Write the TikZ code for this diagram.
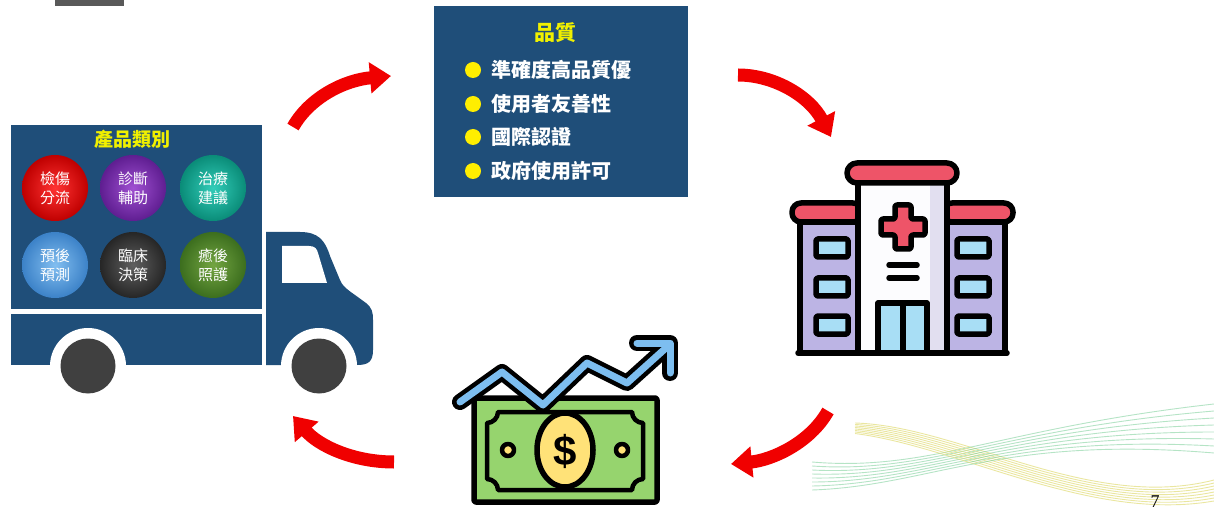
\documentclass[tikz,border=0pt]{standalone}
\usepackage{fontspec}
\newfontfamily\cjk{Noto Sans CJK TC}
\newfontfamily\numfont{Liberation Serif}
\newfontfamily\dollarfont{Liberation Sans}
\usetikzlibrary{arrows.meta}
\definecolor{navy}{RGB}{31,78,121}
\definecolor{wheelgray}{RGB}{64,64,64}
\definecolor{titleyellow}{RGB}{240,240,0}
\definecolor{bulletyellow}{RGB}{255,238,0}
\definecolor{cyclered}{RGB}{240,0,0}
\definecolor{hospred}{RGB}{238,84,104}
\definecolor{lavender}{RGB}{188,180,228}
\definecolor{glass}{RGB}{168,222,245}
\definecolor{towershade}{RGB}{226,223,240}
\definecolor{billgreen}{RGB}{150,212,110}
\definecolor{coinyellow}{RGB}{255,226,120}
\definecolor{trendblue}{RGB}{125,190,240}
\definecolor{wavegreen}{RGB}{120,205,150}
\definecolor{waveyellow}{RGB}{225,220,120}
\begin{document}
\begin{tikzpicture}[x=1pt,y=-1pt,
  ball/.style={circle,minimum size=66pt,inner sep=0pt,text=white,align=center,
    font=\cjk\fontsize{15}{19}\selectfont},
  boxtitle/.style={text=titleyellow,font=\cjk\bfseries\fontsize{19}{22}\selectfont},
  bullet/.style={circle,fill=bulletyellow,minimum size=16pt,inner sep=0pt},
  item/.style={anchor=west,text=white,inner sep=0pt,font=\cjk\bfseries\fontsize{20}{24}\selectfont},
  cycle/.style={draw=cyclered,line width=13pt,-{Triangle[width=30pt,length=21pt]}},
  outline/.style={draw=black,line width=5.5pt,line join=round,line cap=round},
  waveg/.style={draw=wavegreen,line width=0.9pt,opacity=0.55},
  wavey/.style={draw=waveyellow,line width=0.9pt,opacity=0.7}]
\useasboundingbox (0,0) rectangle (1214,510);
\clip (0,0) rectangle (1214,510);

% decorative waves, lower right
\foreach \i in {0,...,7}{
  \draw[wavey] (855,{423+1.5*\i}) .. controls (960,{426+3*\i}) and (1090,{512+1.5*\i}) .. (1214,{480+3*\i});
  \draw[waveg] (812,{462+4*\i}) .. controls (930,{472+2*\i}) and (1000,{428+\i}) .. (1214,{404+7*\i});
}

% small grey tab at the top edge
\fill[gray!70!black] (55,0) rectangle (124,6);

% ---------- truck ----------
\fill[navy] (11,125) rectangle (262,309);
\fill[navy] (11,314) rectangle (262,365);
\fill[navy] (266,232) -- (300,232) .. controls (318,232) and (325,240) .. (330,256)
  -- (340,280) .. controls (343,287) and (348,290) .. (355,295)
  -- (366,303) .. controls (372,308) and (373,312) .. (373,320)
  -- (373,350) .. controls (373,362) and (368,365) .. (357,365)
  -- (266,365) -- cycle;
\fill[white] (282,246) -- (309,246) .. controls (315,246) and (317,249) .. (318,253)
  -- (327,283) -- (282,283) -- cycle;
\fill[white] (88,366) circle[radius=38];
\fill[white] (319,366) circle[radius=38];
\node[circle,fill=wheelgray,minimum size=55pt,inner sep=0pt] (rearwheel) at (88,366) {};
\node[circle,fill=wheelgray,minimum size=55pt,inner sep=0pt] (frontwheel) at (319,366) {};

\node[boxtitle] (cattitle) at (132,139) {產品類別};
\node[ball,inner color=red!80!white,outer color=red!75!black] (triage) at (55,188) {檢傷\\分流};
\node[ball,inner color={rgb,255:red,160;green,80;blue,210},outer color={rgb,255:red,95;green,30;blue,145}] (diag) at (133,188) {診斷\\輔助};
\node[ball,inner color={rgb,255:red,50;green,205;blue,185},outer color={rgb,255:red,10;green,140;blue,120}] (treat) at (213,188) {治療\\建議};
\node[ball,inner color={rgb,255:red,130;green,190;blue,240},outer color={rgb,255:red,60;green,130;blue,200}] (prog) at (55,265) {預後\\預測};
\node[ball,inner color={rgb,255:red,95;green,95;blue,95},outer color={rgb,255:red,38;green,38;blue,38}] (clin) at (133,265) {臨床\\決策};
\node[ball,inner color={rgb,255:red,115;green,165;blue,65},outer color={rgb,255:red,60;green,110;blue,30}] (care) at (213,265) {癒後\\照護};

% ---------- quality box ----------
\fill[navy] (434,6) rectangle (688,197);
\node[boxtitle,font=\cjk\bfseries\fontsize{21}{24}\selectfont] (qtitle) at (555,33) {品質};
\node[bullet] (b1) at (473,70) {};
\node[bullet] (b2) at (473,104) {};
\node[bullet] (b3) at (473,137) {};
\node[bullet] (b4) at (473,171) {};
\node[item] (q1) at (491,70) {準確度高品質優};
\node[item] (q2) at (491,104) {使用者友善性};
\node[item] (q3) at (491,137) {國際認證};
\node[item] (q4) at (491,171) {政府使用許可};

% ---------- hospital ----------
\draw[outline,fill=lavender] (800,222) rectangle (860,353);
\draw[outline,fill=lavender] (945,222) rectangle (1005,353);
\draw[outline,fill=hospred,rounded corners=9pt] (792,203) rectangle (862,222);
\draw[outline,fill=hospred,rounded corners=9pt] (943,203) rectangle (1013,222);
\fill[white!96!lavender] (858,181) rectangle (947,353);
\fill[towershade] (930,183) rectangle (945,353);
\draw[outline] (858,181) rectangle (947,353);
\draw[outline,fill=hospred,rounded corners=10pt] (847,163) rectangle (957,183);
\foreach \yy in {248,287,325}{
  \draw[outline,fill=glass,rounded corners=1.5pt] (816,{\yy-9}) rectangle (848,{\yy+9});
  \draw[outline,fill=glass,rounded corners=1.5pt] (957,{\yy-9}) rectangle (989,{\yy+9});
}
\draw[outline,fill=hospred,rounded corners=2pt] (895,205) -- (911,205) -- (911,219) -- (925,219)
  -- (925,235) -- (911,235) -- (911,249) -- (895,249) -- (895,235) -- (881,235)
  -- (881,219) -- (895,219) -- cycle;
\draw[outline] (889,265) -- (917,265);
\draw[outline] (889,278) -- (917,278);
\draw[outline,fill=glass] (878,303) rectangle (927,353);
\draw[outline] (903,303) -- (903,353);
\draw[outline] (798,353) -- (1007,353);

% ---------- money with rising trend ----------
\draw[outline,fill=billgreen,rounded corners=2pt] (474,398) rectangle (657,502);
\draw[outline,line width=4.5pt] (498,412) -- (632,412) .. controls (632,418) and (637,423) .. (643,423)
  -- (643,479) .. controls (637,479) and (632,484) .. (632,490)
  -- (498,490) .. controls (498,484) and (493,479) .. (487,479)
  -- (487,423) .. controls (493,423) and (498,418) .. (498,412) -- cycle;
\draw[outline,fill=coinyellow] (565,450) ellipse[x radius=28,y radius=37];
\node[font=\dollarfont\bfseries\fontsize{42}{42}\selectfont,inner sep=0pt] (dollar) at (565,451) {\$};
\draw[outline,line width=4.5pt,fill=coinyellow] (508,450) circle[radius=6];
\draw[outline,line width=4.5pt,fill=coinyellow] (622,450) circle[radius=6];
\draw[black,line width=16pt,line join=round,line cap=round]
  (460,402) -- (502,372) -- (543,405) -- (587,363) -- (627,383) -- (667,347);
\draw[black,line width=16pt,line join=round,line cap=round] (637,343) -- (670,343) -- (670,373);
\draw[trendblue,line width=7pt,line join=round,line cap=round]
  (460,402) -- (502,372) -- (543,405) -- (587,363) -- (627,383) -- (667,347);
\draw[trendblue,line width=7pt,line join=round,line cap=round] (637,343) -- (670,343) -- (670,373);

% ---------- cycle arrows ----------
\coordinate (a1s) at (293,127);
\coordinate (a1e) at (391,76);
\coordinate (a2s) at (738,75);
\coordinate (a2e) at (831,137);
\coordinate (a3s) at (828,411);
\coordinate (a3e) at (731,464);
\coordinate (a4s) at (394,462);
\coordinate (a4e) at (293,416);
\draw[cycle] (a1s) .. controls (310,97) and (345,80) .. (a1e);
\draw[cycle] (a2s) .. controls (775,75) and (810,97) .. (a2e);
\draw[cycle] (a3s) .. controls (810,443) and (772,460) .. (a3e);
\draw[cycle] (a4s) .. controls (352,462) and (318,445) .. (a4e);

% page number at the lower edge
\node[font=\numfont\fontsize{18}{18}\selectfont,anchor=south,inner sep=0pt] (pagenum) at (1155,508) {7};
\end{tikzpicture}
\end{document}
